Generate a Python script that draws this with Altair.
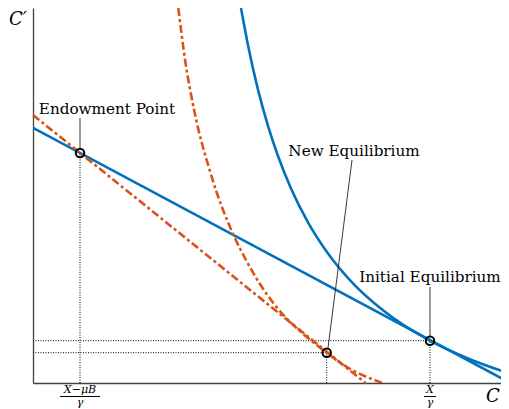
import altair as alt
import pandas as pd

# ---- values (arbitrary units: C horizontal, C' vertical) ----
blue_curve_c  = [208, 215, 225, 235, 245, 258, 275, 295, 320, 350, 397, 435, 476]
blue_curve_cp = [375, 337.8, 293.4, 257.2, 227.0, 194.6, 160.7, 129.6, 99.7, 72.7, 42.3, 24.5, 9.6]

orange_curve_c  = [145.3, 152.1, 161.1, 177.2, 200.5, 213, 226.3, 240.3, 252.2, 265.8, 293.5, 314, 349.2]
orange_curve_cp = [375, 323, 273, 211, 148, 123, 100, 80, 66, 53, 30.3, 16, 0]

budget_c  = [0, 476]
budget_cp = [255.1, 0.8]

new_budget_c  = [0, 332.5]
new_budget_cp = [268, 0]

point_names = ["Endowment Point", "New Equilibrium", "Initial Equilibrium"]
point_c  = [47, 293.7, 397]
point_cp = [230, 30.3, 42.3]

label_c  = [74, 321, 397]
label_cp = [269, 227, 101.5]

# pointer lines from label to point
pointer_c  = [47, 319, 397]
pointer_cp = [265, 223, 96]
pointer_c2 = [47, 295, 397]
pointer_cp2 = [234, 35, 47]

tick_positions = [47, 397]
tick_numerators = ["X−μB", "X"]
tick_denominators = ["γ", "γ"]
tick_bar_half = [20, 6]

W, H = 468, 375
xs = alt.Scale(domain=[0, W], nice=False, zero=False)
ys = alt.Scale(domain=[0, H], nice=False, zero=False)
x_axis = alt.Axis(domain=True, domainColor="#404040", domainWidth=1.3, ticks=False,
                  labels=False, grid=False, title=None)
y_axis = alt.Axis(domain=True, domainColor="#404040", domainWidth=1.3, ticks=False,
                  labels=False, grid=False, title=None)


def X(f="c"):
    return alt.X(f + ":Q", scale=xs, axis=x_axis)


def Y(f="cp"):
    return alt.Y(f + ":Q", scale=ys, axis=y_axis)


BLUE = "#0072BD"
ORANGE = "#D95319"

blue_curve = pd.DataFrame({"c": blue_curve_c, "cp": blue_curve_cp, "i": range(len(blue_curve_c))})
orange_curve = pd.DataFrame({"c": orange_curve_c, "cp": orange_curve_cp, "i": range(len(orange_curve_c))})
budget = pd.DataFrame({"c": budget_c, "cp": budget_cp, "i": [0, 1]})
new_budget = pd.DataFrame({"c": new_budget_c, "cp": new_budget_cp, "i": [0, 1]})
pts = pd.DataFrame({"c": point_c, "cp": point_cp, "name": point_names})

# dotted guide lines: vertical from axis to each point, horizontal to equilibria
guides = pd.DataFrame({
    "c":   [point_c[0], point_c[1], point_c[2], 0, 0],
    "cp":  [0, 0, 0, point_cp[1], point_cp[2]],
    "c2":  [point_c[0], point_c[1], point_c[2], point_c[1], point_c[2]],
    "cp2": [point_cp[0], point_cp[1], point_cp[2], point_cp[1], point_cp[2]],
})
pointers = pd.DataFrame({"c": pointer_c, "cp": pointer_cp, "c2": pointer_c2, "cp2": pointer_cp2})
labels = pd.DataFrame({"c": label_c, "cp": label_cp, "name": point_names})

nums = pd.DataFrame({"c": tick_positions, "cp": [-9.5, -9.5], "t": tick_numerators})
dens = pd.DataFrame({"c": tick_positions, "cp": [-23, -23], "t": tick_denominators})
bars = pd.DataFrame({
    "c": [p - h for p, h in zip(tick_positions, tick_bar_half)],
    "c2": [p + h for p, h in zip(tick_positions, tick_bar_half)],
    "cp": [-13.5, -13.5],
})
axis_titles = pd.DataFrame({"c": [-15, 460], "cp": [358, -19], "t": ["C′", "C"]})

layers = [
    alt.Chart(guides).mark_rule(color="black", strokeWidth=1, strokeDash=[1, 1.5]).encode(
        x=X(), y=Y(), x2="c2:Q", y2="cp2:Q"),
    alt.Chart(budget).mark_line(color=BLUE, strokeWidth=2.6, clip=True).encode(x=X(), y=Y(), order="i:Q"),
    alt.Chart(blue_curve).mark_line(color=BLUE, strokeWidth=2.6, interpolate="monotone", clip=True).encode(
        x=X(), y=Y(), order="i:Q"),
    alt.Chart(new_budget).mark_line(color=ORANGE, strokeWidth=2.6, strokeDash=[8, 3, 3, 3]).encode(
        x=X(), y=Y(), order="i:Q"),
    alt.Chart(orange_curve).mark_line(color=ORANGE, strokeWidth=2.6, strokeDash=[8, 3, 3, 3],
                                      interpolate="monotone", clip=True).encode(
        x=X(), y=Y(), order="i:Q"),
    alt.Chart(pointers).mark_rule(color="#222222", strokeWidth=0.9).encode(
        x=X(), y=Y(), x2="c2:Q", y2="cp2:Q"),
    alt.Chart(pts).mark_point(shape="circle", filled=False, color="black", size=72, strokeWidth=2,
                              opacity=1).encode(x=X(), y=Y()),
    alt.Chart(labels).mark_text(font="DejaVu Serif", fontSize=15.2, color="black", align="center",
                                baseline="alphabetic").encode(x=X(), y=Y(), text="name:N"),
    alt.Chart(nums).mark_text(font="DejaVu Serif", fontStyle="italic", fontSize=11, color="black",
                              align="center", baseline="alphabetic").encode(x=X(), y=Y(), text="t:N"),
    alt.Chart(dens).mark_text(font="DejaVu Serif", fontStyle="italic", fontSize=11, color="black",
                              align="center", baseline="alphabetic").encode(x=X(), y=Y(), text="t:N"),
    alt.Chart(bars).mark_rule(color="black", strokeWidth=1).encode(x=X(), x2="c2:Q", y=Y()),
    alt.Chart(axis_titles).mark_text(font="DejaVu Serif", fontStyle="italic", fontSize=18, color="black",
                                     align="center", baseline="alphabetic").encode(x=X(), y=Y(), text="t:N"),
]

chart = alt.layer(*layers).properties(
    width=W, height=H,
    padding={"left": 25, "top": 0, "right": 0, "bottom": 26},
    autosize=alt.AutoSizeParams(type="none"),
    background="white",
).configure_view(stroke=None, strokeWidth=0)

chart.save("out.html", embed_options={"renderer": "svg", "actions": False})
